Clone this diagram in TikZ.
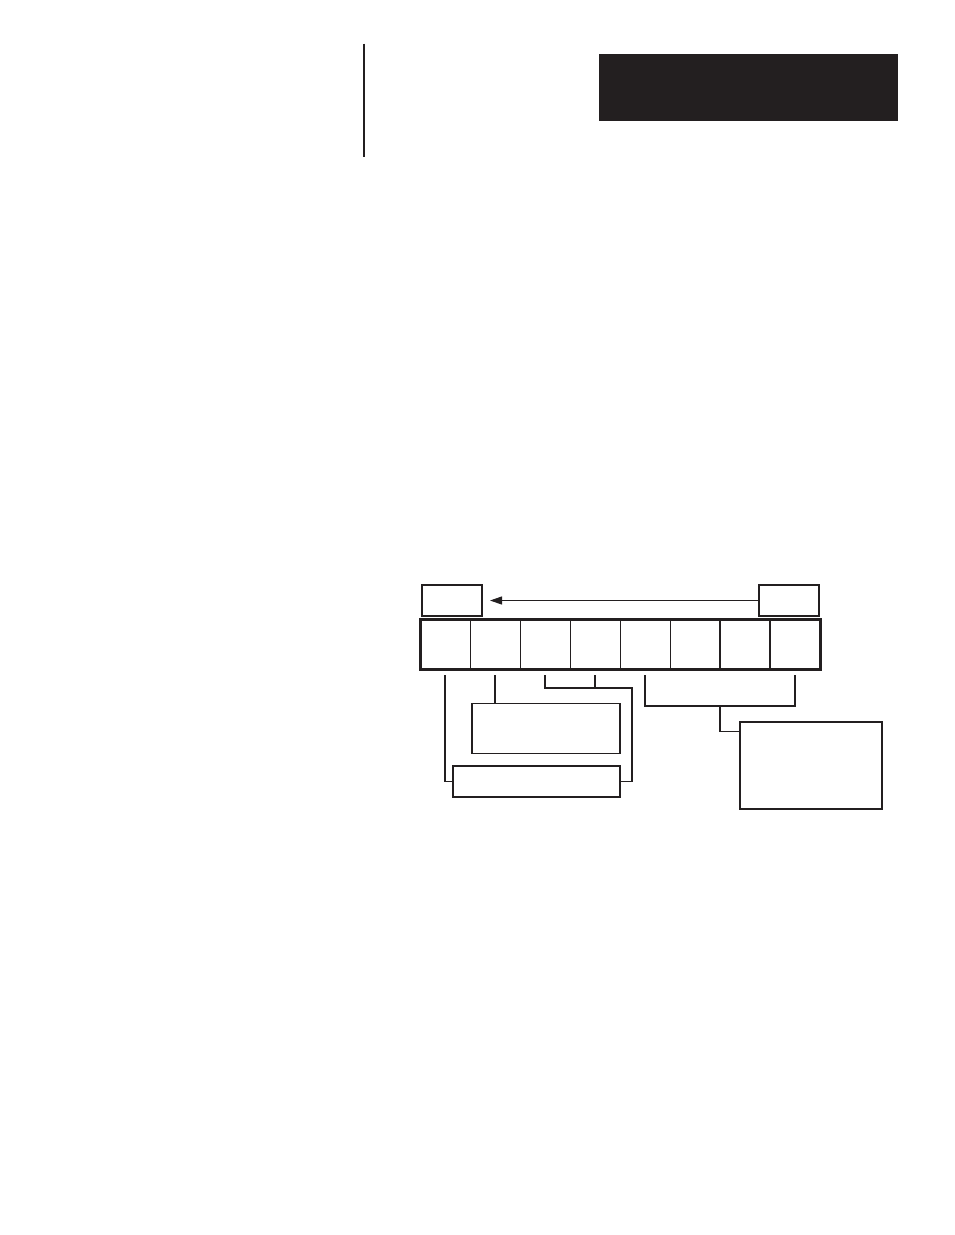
\documentclass[tikz,border=0pt]{standalone}
\usetikzlibrary{positioning,calc,arrows.meta}
\definecolor{ink}{HTML}{231F20}

\begin{document}
\begin{tikzpicture}[%
    x=1pt,
    y=-1pt,
    >={Triangle[length=12pt,width=8pt]},
    draw=ink,
    cell/.style={%
      rectangle,
      minimum width=50pt,
      minimum height=50pt,
      inner sep=0pt,
      outer sep=0pt,
      draw=ink,
      line width=1pt
    },
    tag/.style={%
      rectangle,
      inner sep=0pt,
      outer sep=0pt,
      draw=ink,
      line width=1.6pt
    },
    thin link/.style={ink, line width=1.1pt},
    thick link/.style={ink, line width=2pt}
  ]
    \useasboundingbox (0,0) rectangle (954,1235);

    % page header
    \draw[ink, line width=2pt] (363.5,43.5) -- (363.5,156.5);
    \fill[ink] (598.5,54) rectangle (898,121);

    % register cells
    \foreach \k in {0,...,7}
      \node[cell] (c\k) at ({445+50*\k},644.5) {};
    \draw[ink, line width=2pt] (c6.north west) -- (c6.south west)
                               (c7.north west) -- (c7.south west);
    \draw[ink, line width=3pt] (c0.north west) rectangle (c7.south east);

    % source / destination
    \node[tag, minimum width=60pt, minimum height=31pt] (dst) at (452,600.5) {};
    \node[tag, minimum width=60pt, minimum height=31pt] (src) at (789,600.5) {};
    \draw[->, ink, line width=1pt, shorten >=8pt] (src.west) -- (dst.east);

    % field boxes
    \node[tag, minimum width=148pt, minimum height=50pt] (fa) at (546,728.3) {};
    \node[tag, minimum width=167pt, minimum height=31pt] (fb) at (536.3,781.2) {};
    \node[tag, minimum width=142pt, minimum height=87pt] (fc) at (811,765.3) {};

    % leads from the bits
    \foreach \k in {0,...,7}
      \coordinate (t\k) at ($(c\k.south)+(0,5.5)$);
    \coordinate (j23) at ($(t3)+(0,13)$);
    \coordinate (j47) at ($(t7)+(0,31)$);
    \coordinate (mid47) at ($(t4)!0.5!(t7)+(0,31)$);

    \draw[thin link] (t0) |- (fb.west);
    \draw[thick link] (t1) -- (t1 |- fa.north);
    \draw[thick link] (t2) |- (j23) -- (t3);
    \draw[thin link] (j23) -- ++(37,0) |- (fb.east);
    \draw[thin link] (t4) |- (j47) -- (t7);
    \draw[thin link] (mid47) |- ($(fc.north west)+(0,9.3)$);
\end{tikzpicture}
\end{document}
